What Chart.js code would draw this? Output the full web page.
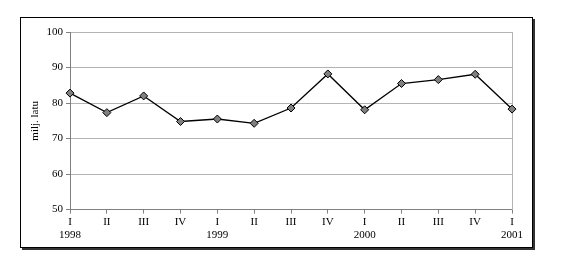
<!DOCTYPE html>
<html>
<head>
<meta charset="utf-8">
<script src="https://cdn.jsdelivr.net/npm/chart.js@4/dist/chart.umd.min.js"></script>
<style>
  html, body { margin: 0; padding: 0; background: #fff; }
  #wrap { position: relative; width: 566px; height: 259px; }
  #frame {
    position: absolute; left: 20px; top: 17px; width: 511px; height: 229px;
    border: 1px solid #000; box-shadow: 2px 2px 0 #333; pointer-events: none;
  }
</style>
</head>
<body>
<div id="wrap">
  <canvas id="grafiks" width="566" height="259"></canvas>
  <div id="frame"></div>
</div>
<script>
const ceturksni = ['I', 'II', 'III', 'IV', 'I', 'II', 'III', 'IV', 'I', 'II', 'III', 'IV', 'I'];
const gadi = ['1998', '', '', '', '1999', '', '', '', '2000', '', '', '', '2001'];
const vertibas = [82.8, 77.3, 82.0, 74.8, 75.5, 74.3, 78.6, 88.2, 78.1, 85.5, 86.6, 88.1, 78.3];
const asisNosaukums = 'milj. latu';

const fonts = { family: '"Liberation Serif", "Times New Roman", serif', size: 11 };

new Chart(document.getElementById('grafiks').getContext('2d'), {
  type: 'line',
  data: {
    labels: ceturksni.map((c, i) => [c, gadi[i]]),
    datasets: [{
      data: vertibas,
      borderColor: '#000',
      borderWidth: 1.3,
      tension: 0,
      pointStyle: 'rectRot',
      pointRadius: 4,
      pointBackgroundColor: '#808080',
      pointBorderColor: '#000',
      pointBorderWidth: 1
    }]
  },
  options: {
    responsive: false,
    animation: false,
    layout: { padding: { left: 22, right: 54, top: 32, bottom: 15 } },
    plugins: { legend: { display: false }, tooltip: { enabled: false } },
    scales: {
      x: {
        offset: false,
        grid: { drawOnChartArea: false, tickLength: 4, color: '#808080' },
        border: { color: '#808080' },
        ticks: { font: fonts, color: '#000', maxRotation: 0, autoSkip: false, padding: 2 }
      },
      y: {
        min: 50, max: 100,
        afterFit: s => { s.width = 48; },
        grid: { color: '#b4b4b4', tickLength: 4, tickColor: '#808080' },
        border: { color: '#808080' },
        ticks: { stepSize: 10, font: fonts, color: '#000', padding: 3 },
        title: { display: true, text: asisNosaukums, font: fonts, color: '#000', padding: { top: 7, bottom: 0 } }
      },
      y2: {
        position: 'right',
        min: 50, max: 100,
        afterFit: s => { s.width = 0; },
        grid: { display: false },
        ticks: { display: false },
        border: { color: '#b4b4b4' }
      }
    }
  }
});
</script>
</body>
</html>
